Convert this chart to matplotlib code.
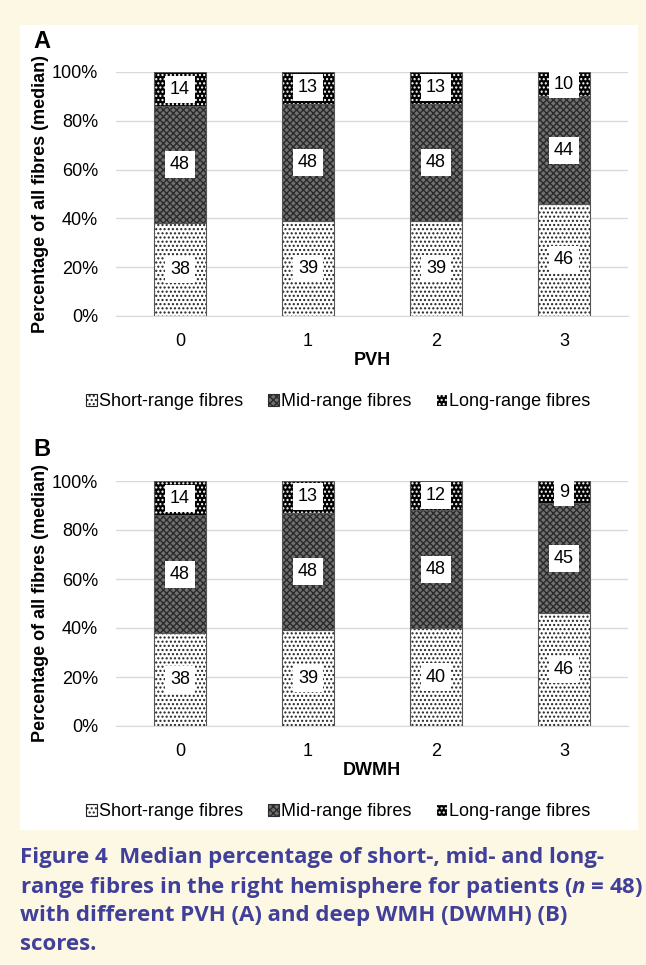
import numpy as np
import matplotlib; matplotlib.use("Agg")
import matplotlib.pyplot as plt
from matplotlib.patches import Patch

plt.rcParams.update({"font.family": ["Liberation Sans", "DejaVu Sans"], "font.size": 13,
                     "hatch.linewidth": 1.0, "mathtext.fontset": "custom",
                     "mathtext.it": "Open Sans:italic:bold", "mathtext.rm": "Open Sans:bold"})

W, H = 646, 965
categories = ["0", "1", "2", "3"]
series = ["Short-range fibres", "Mid-range fibres", "Long-range fibres"]

pvh_short = [38, 39, 39, 46]
pvh_mid = [48, 48, 48, 44]
pvh_long = [14, 13, 13, 10]

dwmh_short = [38, 39, 40, 46]
dwmh_mid = [48, 48, 48, 45]
dwmh_long = [14, 13, 12, 9]

yticks = [0, 20, 40, 60, 80, 100]
caption = ["Figure 4  Median percentage of short-, mid- and long-",
           "range fibres in the right hemisphere for patients ($n$ = 48)",
           "with different PVH (A) and deep WMH (DWMH) (B)",
           "scores."]

# face, hatch colour, hatch
STYLES = [("white", "#222222", "...."),
          ("#707070", "#2a2a2a", "xxxxx"),
          ("black", "white", "....")]


def ax_px(fig, x0, y0, x1, y1):
    return fig.add_axes([x0 / W, 1 - y1 / H, (x1 - x0) / W, (y1 - y0) / H])


def panel(fig, y_top, y_bot, letter, xlabel, data):
    fig.text(33 / W, 1 - (y_top - 31) / H, letter, fontsize=17, fontweight="bold", va="center")
    ax = ax_px(fig, 116, y_top, 628, y_bot)
    ax.set_facecolor("white")
    x = np.arange(len(categories))
    bottom = np.zeros(len(categories))
    for vals, (fc, hc, hatch) in zip(data, STYLES):
        vals = np.array(vals, float)
        ax.bar(x, vals, 0.41, bottom=bottom, color=fc, edgecolor=hc, hatch=hatch, lw=0, zorder=2)
        ax.bar(x, vals, 0.41, bottom=bottom, fill=False, edgecolor="#555555", lw=0.8, zorder=3)
        for xi, b, v in zip(x, bottom, vals):
            ax.text(xi, b + v / 2, f"{int(v)}", ha="center", va="center", fontsize=13, zorder=4,
                    bbox=dict(boxstyle="square,pad=0.28", fc="white", ec="none"))
        bottom += vals
    ax.set_xlim(-0.5, 3.5)
    ax.set_ylim(0, 100)
    ax.set_yticks(yticks)
    ax.set_yticklabels([f"{t}%" for t in yticks])
    ax.set_xticks(x)
    ax.set_xticklabels(categories)
    ax.yaxis.grid(True, color="#d9d9d9", lw=1, zorder=0)
    ax.set_axisbelow(True)
    for s in ["top", "right", "left"]:
        ax.spines[s].set_visible(False)
    ax.spines["bottom"].set_color("#d9d9d9")
    ax.tick_params(axis="y", length=0, pad=13, labelsize=13)
    ax.tick_params(axis="x", length=0, pad=12, labelsize=13)
    ax.set_xlabel(xlabel, fontweight="bold", fontsize=13, labelpad=2)
    ax.set_ylabel("Percentage of all fibres (median)", fontweight="bold", fontsize=13, labelpad=2)
    handles = [Patch(facecolor=fc, edgecolor=hc, hatch=h, lw=0.8) for fc, hc, h in STYLES]
    fig.legend(handles, series, loc="center", bbox_to_anchor=(338 / W, 1 - (y_bot + 86) / H),
               ncol=3, frameon=False, handlelength=0.6, handleheight=0.6, handletextpad=0.1,
               columnspacing=1.4, fontsize=13)
    return ax


fig = plt.figure(figsize=(W / 100, H / 100), dpi=100)
fig.patch.set_facecolor("#fdf8e3")
bg = ax_px(fig, 20, 25, 638, 830)
bg.set_facecolor("white")
bg.set_xticks([]); bg.set_yticks([])
for s in bg.spines.values():
    s.set_visible(False)
bg.set_zorder(-5)

panel(fig, 72, 316, "A", "PVH", [pvh_short, pvh_mid, pvh_long])
panel(fig, 481, 726, "B", "DWMH", [dwmh_short, dwmh_mid, dwmh_long])

for i, line in enumerate(caption):
    fig.text(20 / W, 1 - (858 + i * 29) / H, line, fontsize=16, fontweight="bold",
             color="#40409a", va="center", family=["Open Sans", "DejaVu Sans"])

fig.savefig("out.png", dpi=100, facecolor=fig.get_facecolor())
